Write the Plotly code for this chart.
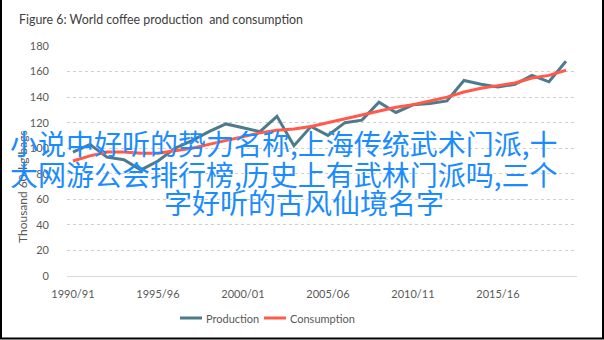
import plotly.graph_objects as go

# Coffee seasons on the category axis
seasons = [
    "1990/91", "1991/92", "1992/93", "1993/94", "1994/95",
    "1995/96", "1996/97", "1997/98", "1998/99", "1999/00",
    "2000/01", "2001/02", "2002/03", "2003/04", "2004/05",
    "2005/06", "2006/07", "2007/08", "2008/09", "2009/10",
    "2010/11", "2011/12", "2012/13", "2013/14", "2014/15",
    "2015/16", "2016/17", "2017/18", "2018/19", "2019/20",
]
tick_seasons = ["1990/91", "1995/96", "2000/01", "2005/06", "2010/11", "2015/16"]

production = [
    97, 103, 93, 91, 83, 90, 100, 106, 113, 119,
    116, 113, 125, 102, 117, 110, 120, 122, 136, 128,
    134, 135, 137, 153, 150, 148, 150, 157, 152, 168,
]
consumption = [
    90, 94, 97, 97, 96, 96, 98, 100, 103, 106,
    109, 112, 114, 115, 117, 120, 123, 126, 129, 132,
    134, 137, 140, 144, 147, 149, 151, 155, 157, 161,
]
y_ticks = [0, 20, 40, 60, 80, 100, 120, 140, 160, 180]

PROD_COLOR = "#4d7b8d"
CONS_COLOR = "#ff5a4a"
TEXT_COLOR = "#595959"
LATIN = "Lato, 'Open Sans', sans-serif"

# Plot-area geometry in pixels (used to place free-floating text)
W, H = 604, 340
L, R, T, B = 67, 27, 46, 64
PW, PH = W - L - R, H - T - B


def px(x):
    return (x - L) / PW


def py(y):
    return (H - B - y) / PH


fig = go.Figure()
fig.add_trace(go.Scatter(x=seasons, y=production, mode="lines", name="Production",
                         line=dict(color=PROD_COLOR, width=3)))
fig.add_trace(go.Scatter(x=seasons, y=consumption, mode="lines", name="Consumption",
                         line=dict(color=CONS_COLOR, width=3)))

fig.update_layout(
    width=W, height=H,
    margin=dict(l=L, r=R, t=T, b=B),
    paper_bgcolor="white", plot_bgcolor="white",
    showlegend=False,
    font=dict(family=LATIN, size=11, color=TEXT_COLOR),
)
fig.update_xaxes(
    type="category", categoryorder="array", categoryarray=seasons,
    range=[-0.35, len(seasons) - 0.35],
    tickmode="array", tickvals=tick_seasons, ticktext=tick_seasons,
    showgrid=False, showline=True, linecolor="#d9d9d9", linewidth=1,
    ticks="", ticklabelstandoff=8, tickfont=dict(size=11, color=TEXT_COLOR),
)
fig.update_yaxes(
    range=[0, 180], tickmode="array", tickvals=y_ticks,
    showgrid=True, gridcolor="#d0d0d0", griddash="dot", gridwidth=1,
    zeroline=False, showline=False, ticks="", ticklabelstandoff=17,
    tickfont=dict(size=11, color=TEXT_COLOR),
)

annotations = [
    dict(text="Figure 6: World coffee production  and consumption",
         x=px(17), y=py(20), xanchor="left", yanchor="middle",
         font=dict(family=LATIN, size=12.4, color="#404040")),
    dict(text="Thousand 60-kg bags", textangle=-90,
         x=px(22), y=py(187), xanchor="center", yanchor="middle",
         font=dict(family=LATIN, size=12, color=TEXT_COLOR)),
    # legend entries
    dict(text="Production", x=px(204), y=py(318), xanchor="left", yanchor="middle",
         font=dict(family=LATIN, size=11, color=TEXT_COLOR)),
    dict(text="Consumption", x=px(288), y=py(318), xanchor="left", yanchor="middle",
         font=dict(family=LATIN, size=11, color=TEXT_COLOR)),
]

# Overlaid caption text
cjk = "'Noto Sans CJK SC', sans-serif"
caption_lines = [
    ("小说中好听的势力名称,上海传统武术门派,十", 8, 142.5),
    ("大网游公会排行榜,历史上有武林门派吗,三个", 8, 173.5),
    ("字好听的古风仙境名字", 162, 201.5),
]
for text, x0, yc in caption_lines:
    annotations.append(dict(text=text, x=px(x0), y=py(yc), xanchor="left", yanchor="middle",
                            font=dict(family=cjk, size=28, color="#1a8cff")))

fig.update_layout(annotations=[dict(a, xref="paper", yref="paper", showarrow=False) for a in annotations])

shapes = [
    # legend swatches
    dict(type="line", x0=px(180), x1=px(202), y0=py(318), y1=py(318),
         line=dict(color=PROD_COLOR, width=3)),
    dict(type="line", x0=px(264), x1=px(286), y0=py(318), y1=py(318),
         line=dict(color=CONS_COLOR, width=3)),
    # frame around the figure
    dict(type="line", x0=px(1), x1=px(1), y0=py(0), y1=py(339), line=dict(color="black", width=2)),
    dict(type="line", x0=px(603), x1=px(603), y0=py(0), y1=py(339), line=dict(color="black", width=2)),
    dict(type="line", x0=px(0), x1=px(604), y0=py(338.5), y1=py(338.5), line=dict(color="black", width=2)),
]
fig.update_layout(shapes=[dict(s, xref="paper", yref="paper", layer="above") for s in shapes])

fig.write_html("out.html")
